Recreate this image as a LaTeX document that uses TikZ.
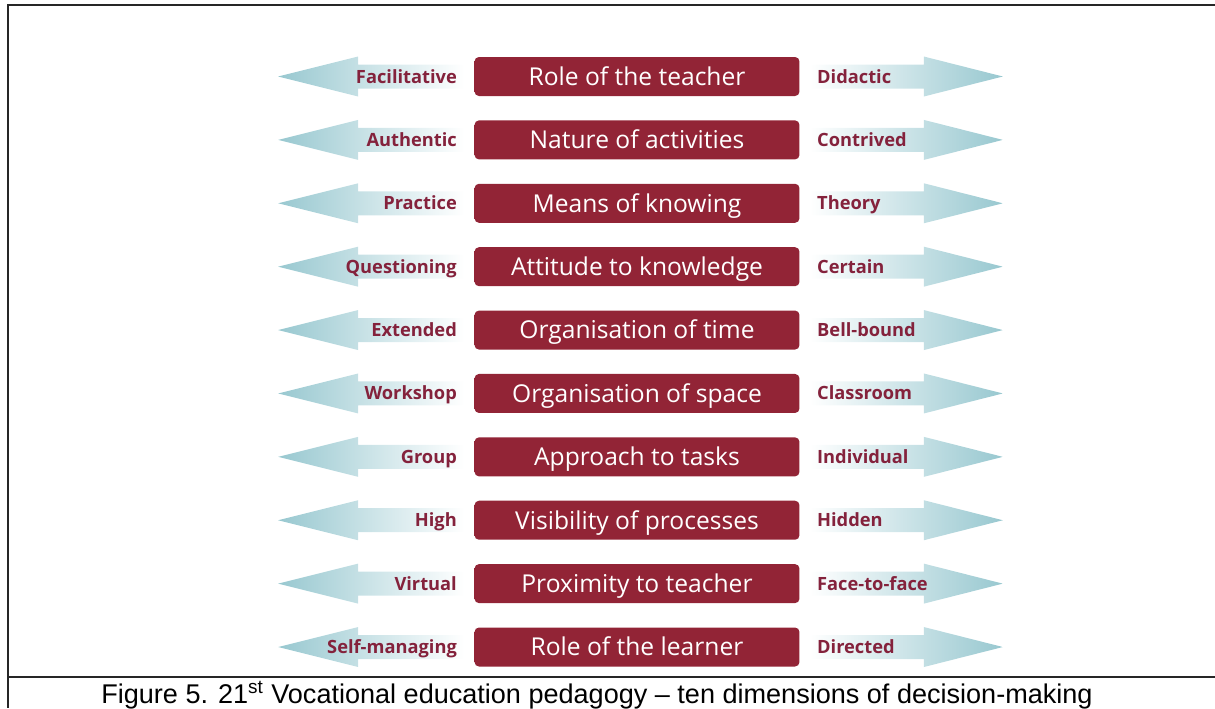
\documentclass[tikz,border=0pt]{standalone}
\usepackage{fontspec}
\setmainfont{Liberation Sans}
\newfontfamily\boxfont{Open Sans}
\usepackage{xcolor}
\usetikzlibrary{positioning,calc,backgrounds}
\definecolor{boxred}{RGB}{146, 36, 54}
\definecolor{boxglow}{RGB}{180, 82, 94}
\definecolor{labelred}{RGB}{132, 34, 60}
\definecolor{arrowteal}{RGB}{152, 200, 208}

\begin{document}
\begin{tikzpicture}[
    x=0.02cm, y=-0.02cm,
    node distance=0.474cm,
    dimbox/.style={rectangle, rounded corners=2.5pt, minimum width=6.5cm, minimum height=0.78cm, inner sep=0pt, text height=13pt, text depth=3pt, left color=boxred, middle color=boxglow, right color=boxred, text=white, font=\boxfont\fontsize{14}{16}\selectfont},
    pole/.style={inner sep=0pt, text height=9.6pt, text depth=2.2pt, text=labelred, font=\boxfont\bfseries\fontsize{10.4}{12}\selectfont},
    leftarrow/.style={left color=arrowteal, middle color=arrowteal!55!white, right color=white},
    rightarrow/.style={left color=white, middle color=arrowteal!55!white, right color=arrowteal},
    cellrule/.style={line width=1pt, black!85}
]
    \useasboundingbox (0,0) rectangle (1215,708);

    % dimensions
    \node[dimbox] (b1) at (637,76.5) {Role of the teacher};
    \node[dimbox, below=of b1] (b2) {Nature of activities};
    \node[dimbox, below=of b2] (b3) {Means of knowing};
    \node[dimbox, below=of b3] (b4) {Attitude to knowledge};
    \node[dimbox, below=of b4] (b5) {Organisation of time};
    \node[dimbox, below=of b5] (b6) {Organisation of space};
    \node[dimbox, below=of b6] (b7) {Approach to tasks};
    \node[dimbox, below=of b7] (b8) {Visibility of processes};
    \node[dimbox, below=of b8] (b9) {Proximity to teacher};
    \node[dimbox, below=of b9] (b10) {Role of the learner};

    % poles
    \node[pole, left=0.34cm of b1] (l1) {Facilitative};
    \node[pole, right=0.34cm of b1] (r1) {Didactic};
    \node[pole, left=0.34cm of b2] (l2) {Authentic};
    \node[pole, right=0.34cm of b2] (r2) {Contrived};
    \node[pole, left=0.34cm of b3] (l3) {Practice};
    \node[pole, right=0.34cm of b3] (r3) {Theory};
    \node[pole, left=0.34cm of b4] (l4) {Questioning};
    \node[pole, right=0.34cm of b4] (r4) {Certain};
    \node[pole, left=0.34cm of b5] (l5) {Extended};
    \node[pole, right=0.34cm of b5] (r5) {Bell-bound};
    \node[pole, left=0.34cm of b6] (l6) {Workshop};
    \node[pole, right=0.34cm of b6] (r6) {Classroom};
    \node[pole, left=0.34cm of b7] (l7) {Group};
    \node[pole, right=0.34cm of b7] (r7) {Individual};
    \node[pole, left=0.34cm of b8] (l8) {High};
    \node[pole, right=0.34cm of b8] (r8) {Hidden};
    \node[pole, left=0.34cm of b9] (l9) {Virtual};
    \node[pole, right=0.34cm of b9] (r9) {Face-to-face};
    \node[pole, left=0.34cm of b10] (l10) {Self-managing};
    \node[pole, right=0.34cm of b10] (r10) {Directed};

    % fat arrows behind the poles
    \begin{pgfonlayer}{background}
    \foreach \r in {1,...,10} {
        \shade[leftarrow] ($(b\r.west)+(-196,0)$) -- ($(b\r.west)+(-116,-20)$) -- ($(b\r.west)+(-116,-12)$)
            -- ($(b\r.west)+(-10,-12)$) -- ($(b\r.west)+(-10,12)$) -- ($(b\r.west)+(-116,12)$)
            -- ($(b\r.west)+(-116,20)$) -- cycle;
        \shade[rightarrow] ($(b\r.east)+(203,0)$) -- ($(b\r.east)+(124,-20)$) -- ($(b\r.east)+(124,-12)$)
            -- ($(b\r.east)+(10,-12)$) -- ($(b\r.east)+(10,12)$) -- ($(b\r.east)+(124,12)$)
            -- ($(b\r.east)+(124,20)$) -- cycle;
    }
    \end{pgfonlayer}

    % table cell
    \draw[cellrule] (1215,5) -- (8,5) -- (8,708);
    \draw[cellrule] (8,677) -- (1215,677);
    \node[anchor=base, font=\fontsize{15.4}{18}\selectfont] (cap) at (597,703) {Figure 5. 21\textsuperscript{st} Vocational education pedagogy -- ten dimensions of decision-making};
\end{tikzpicture}
\end{document}
